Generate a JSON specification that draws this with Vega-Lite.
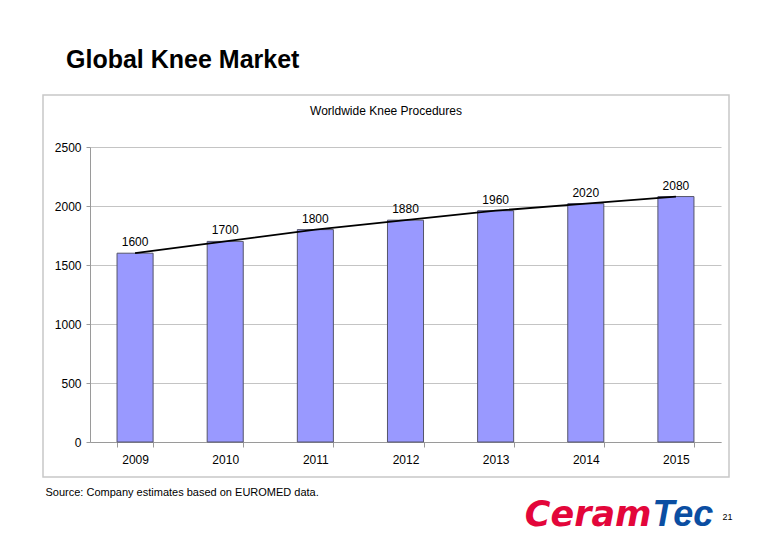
{
  "$schema": "https://vega.github.io/schema/vega-lite/v6.json",
  "autosize": {"type": "none"},
  "padding": {"left": 43, "top": 95, "right": 737, "bottom": 456},
  "background": "white",
  "title": {
    "text": "Global Knee Market",
    "anchor": "start",
    "frame": "group",
    "dx": 23,
    "offset": 1,
    "baseline": "alphabetic",
    "font": "Liberation Sans",
    "fontSize": 25,
    "fontWeight": "bold",
    "color": "#000000"
  },
  "data": {
    "values": [
      {"year": "2009", "procedures": 1600},
      {"year": "2010", "procedures": 1700},
      {"year": "2011", "procedures": 1800},
      {"year": "2012", "procedures": 1880},
      {"year": "2013", "procedures": 1960},
      {"year": "2014", "procedures": 2020},
      {"year": "2015", "procedures": 2080}
    ]
  },
  "vconcat": [
    {
      "width": 686,
      "height": 382,
      "title": {
        "text": "Worldwide Knee Procedures",
        "anchor": "middle",
        "frame": "group",
        "offset": -32,
        "baseline": "alphabetic",
        "font": "Liberation Sans",
        "fontSize": 12,
        "fontWeight": "normal",
        "color": "#000000"
      },
      "layer": [
        {
          "encoding": {
            "x": {
              "field": "year",
              "type": "nominal",
              "sort": null,
              "scale": {"type": "band", "range": [47, 678], "paddingInner": 0.6, "paddingOuter": 0.3},
              "axis": {
                "orient": "bottom",
                "offset": -35,
                "labelAngle": 0,
                "labelFontSize": 12,
                "labelPadding": 7,
                "labelColor": "#000000",
                "tickSize": 5,
                "tickBand": "extent",
                "grid": false,
                "title": "Ceram",
                "titleX": 608,
                "titleY": 83,
                "titleAlign": "right",
                "titleAnchor": null,
                "titleBaseline": "alphabetic",
                "titleFont": "DejaVu Sans",
                "titleFontSize": 35,
                "titleFontWeight": "bold",
                "titleFontStyle": "italic",
                "titleColor": "#E3063A"
              }
            },
            "y": {
              "field": "procedures",
              "type": "quantitative",
              "scale": {"domain": [0, 2500], "range": [347, 52], "nice": false},
              "axis": {
                "orient": "left",
                "offset": -47,
                "values": [0, 500, 1000, 1500, 2000, 2500],
                "format": "d",
                "labelFontSize": 12,
                "labelPadding": 5,
                "labelColor": "#000000",
                "tickSize": 4,
                "grid": true,
                "title": "Source: Company estimates based on EUROMED data.",
                "titleAngle": 0,
                "titleX": -45,
                "titleY": 400,
                "titleAlign": "left",
                "titleBaseline": "alphabetic",
                "titleFont": "Liberation Sans",
                "titleFontSize": 11,
                "titleFontWeight": "normal",
                "titleColor": "#000000"
              }
            }
          },
          "layer": [
            {
              "mark": {"type": "bar", "color": "#9999FF", "stroke": "#55556a", "strokeWidth": 1}
            },
            {
              "mark": {"type": "text", "baseline": "alphabetic", "dy": -7, "fontSize": 12, "color": "#000000"},
              "encoding": {"text": {"field": "procedures", "type": "quantitative"}}
            }
          ]
        },
        {
          "mark": {"type": "line", "color": "#000000", "strokeWidth": 1.8},
          "encoding": {
            "x": {
              "field": "year",
              "type": "nominal",
              "sort": null,
              "axis": {
                "orient": "top",
                "labels": false,
                "ticks": false,
                "domain": false,
                "grid": false,
                "title": "Tec",
                "titleX": 609,
                "titleY": 430,
                "titleAlign": "left",
                "titleAnchor": null,
                "titleBaseline": "alphabetic",
                "titleFont": "Liberation Sans",
                "titleFontSize": 36,
                "titleFontWeight": "bold",
                "titleFontStyle": "italic",
                "titleColor": "#0B4EA2"
              }
            },
            "y": {
              "field": "procedures",
              "type": "quantitative",
              "axis": {
                "orient": "right",
                "labels": false,
                "ticks": false,
                "domain": false,
                "grid": false,
                "title": "21",
                "titleAngle": 0,
                "titleX": -2,
                "titleY": 424,
                "titleAlign": "center",
                "titleBaseline": "alphabetic",
                "titleFont": "Liberation Sans",
                "titleFontSize": 9,
                "titleFontWeight": "normal",
                "titleColor": "#000000"
              }
            }
          }
        }
      ],
      "resolve": {"axis": {"x": "independent", "y": "independent"}}
    }
  ],
  "config": {
    "font": "Liberation Sans",
    "view": {"stroke": "#c8c8c8", "strokeWidth": 1.5},
    "axis": {
      "domainColor": "#9a9a9a",
      "tickColor": "#9a9a9a",
      "gridColor": "#c4c4c4",
      "labelFont": "Liberation Sans"
    }
  }
}
